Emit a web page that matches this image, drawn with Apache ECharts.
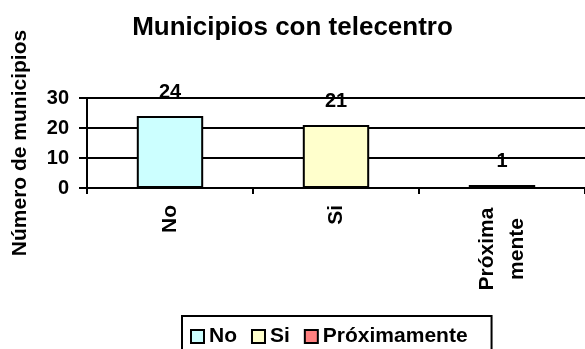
<!DOCTYPE html>
<html lang="es">
<head>
<meta charset="utf-8">
<title>Municipios con telecentro</title>
<script src="https://cdn.jsdelivr.net/npm/echarts@6/dist/echarts.min.js"></script>
<style>
  html, body { margin: 0; padding: 0; background: #fff; }
  #chart { width: 585px; height: 349px; }
</style>
</head>
<body>
<div id="chart"></div>
<script>
  var categories = ['No', 'Si', 'Próximamente'];
  var values = [24, 21, 1];
  var colors = ['#CCFFFF', '#FFFFCC', '#FF8080'];
  var yTicks = [0, 10, 20, 30];

  var font = '"Liberation Sans", Arial, sans-serif';

  var series = categories.map(function (name, i) {
    return {
      name: name,
      type: 'bar',
      stack: 'all',
      barWidth: '40%',
      data: categories.map(function (c, j) { return j === i ? values[i] : null; }),
      itemStyle: { color: colors[i], borderColor: '#000', borderWidth: 2 },
      label: {
        show: true,
        position: 'top',
        distance: 14,
        color: '#000',
        fontFamily: font,
        fontWeight: 'bold',
        fontSize: 20
      }
    };
  });

  var chart = echarts.init(document.getElementById('chart'));
  chart.setOption({
    animation: false,
    title: {
      text: 'Municipios con telecentro',
      left: 'center',
      top: 10,
      textStyle: { fontFamily: font, fontWeight: 'bold', fontSize: 26, color: '#000' }
    },
    legend: {
      data: categories,
      left: 182,
      top: 316,
      padding: [10, 24, 8, 8],
      borderColor: '#000',
      borderWidth: 2,
      itemWidth: 13,
      itemHeight: 13,
      itemGap: 14,
      icon: 'rect',
      textStyle: { fontFamily: font, fontWeight: 'bold', fontSize: 21, color: '#000' }
    },
    grid: { left: 87, right: 0, top: 98, bottom: 161, containLabel: false },
    xAxis: {
      type: 'category',
      data: categories,
      axisLine: { lineStyle: { color: '#000', width: 2 } },
      axisTick: { show: true, length: 6, lineStyle: { color: '#000', width: 2 } },
      axisLabel: {
        interval: 0,
        rotate: 90,
        margin: 17,
        color: '#000',
        fontFamily: font,
        fontWeight: 'bold',
        fontSize: 21,
        formatter: function (v) {
          if (v === 'Próximamente') return '{p|Próxima}\n{p|mente}';
          return v;
        },
        rich: {
          p: { width: 88, align: 'center', lineHeight: 30, fontFamily: font, fontWeight: 'bold', fontSize: 21, color: '#000' }
        }
      }
    },
    yAxis: {
      type: 'value',
      min: yTicks[0],
      max: yTicks[yTicks.length - 1],
      interval: yTicks[1] - yTicks[0],
      name: 'Número de municipios',
      nameLocation: 'middle',
      nameGap: 56,
      nameTextStyle: { fontFamily: font, fontWeight: 'bold', fontSize: 21, color: '#000' },
      axisLine: { show: true, lineStyle: { color: '#000', width: 2 } },
      axisTick: { show: true, length: 8, lineStyle: { color: '#000', width: 2 } },
      axisLabel: { margin: 18, color: '#000', fontFamily: font, fontWeight: 'bold', fontSize: 20 },
      splitLine: { lineStyle: { color: '#000', width: 2 } }
    },
    series: series
  });
</script>
</body>
</html>
